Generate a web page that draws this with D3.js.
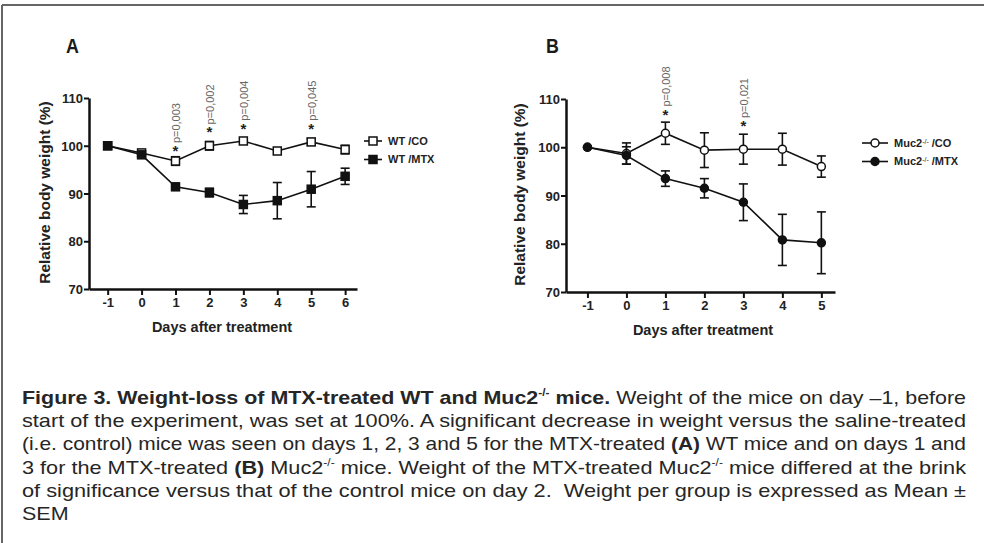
<!DOCTYPE html>
<html>
<head>
<meta charset="utf-8">
<script src="https://cdn.jsdelivr.net/npm/d3@7"></script>
<style>
  body { margin: 0; background: #fff; }
  #wrap { position: relative; width: 984px; height: 543px; overflow: hidden; }
  svg { position: absolute; left: 0; top: 0; }
  svg text { font-family: "Liberation Sans", Arial, sans-serif; }
  #caption {
    position: absolute; left: 22px; top: 386px;
    font-family: "Liberation Sans", Arial, sans-serif;
    font-size: 19px; line-height: 23.2px; color: #262626;
  }
  #caption div { height: 23.2px; white-space: nowrap; }
  #caption span { display: inline-block; transform-origin: 0 0; }
  #caption sup { font-size: 10.5px; vertical-align: 8px; line-height: 0; }
</style>
</head>
<body>
<div id="wrap">
  <svg id="chart" width="984" height="543"></svg>
  <div id="caption"></div>
</div>
<script>
// Panel A: WT mice
const daysA = [-1, 0, 1, 2, 3, 4, 5, 6];
const wtCo = [100, 98.5, 96.8, 100, 101, 98.9, 100.8, 99.2];
const wtCoSem = [0.3, 0.3, 0.9, 0.9, 0.5, 0.4, 0.7, 0.9];
const wtMtx = [100, 98.1, 91.4, 90.2, 87.7, 88.5, 90.9, 93.6];
const wtMtxSem = [0.2, 0.3, 0.4, 0.9, 1.9, 3.8, 3.7, 1.7];
const sigDaysA = [1, 2, 3, 5];
const sigLevelA = [99.3, 103.2, 104, 104];
const pLabelsA = ["p=0,003", "p=0,002", "p=0,004", "p=0,045"];

// Panel B: Muc2-/- mice
const daysB = [-1, 0, 1, 2, 3, 4, 5];
const mucCo = [100, 98.7, 102.9, 99.4, 99.6, 99.6, 96];
const mucCoSem = [0, 2.2, 2.3, 3.6, 3.1, 3.3, 2.2];
const mucMtx = [100, 98.3, 93.5, 91.5, 88.6, 80.8, 80.2];
const mucMtxSem = [0, 1.8, 1.6, 2, 3.8, 5.3, 6.4];
const sigDaysB = [1, 3];
const sigLevelB = [107.2, 104.8];
const pLabelsB = ["p=0,008", "p=0,021"];

const yTicks = [70, 80, 90, 100, 110];
const xTitle = "Days after treatment";
const yTitle = "Relative body weight (%)";

const svg = d3.select("#chart");

// frame of the figure
svg.append("line").attr("x1", 2).attr("x2", 984).attr("y1", 5).attr("y2", 5)
  .attr("stroke", "#666").attr("stroke-width", 2);
svg.append("line").attr("x1", 2).attr("x2", 2).attr("y1", 5).attr("y2", 543)
  .attr("stroke", "#666").attr("stroke-width", 2);

function panel(opt) {
  const x = d3.scaleLinear().domain(opt.xDomain).range(opt.xRange);
  const y = d3.scaleLinear().domain([70, 110]).range(opt.yRange);
  const g = svg.append("g");

  g.append("text")
    .attr("x", opt.letterX).attr("y", 53)
    .attr("transform", "translate(" + opt.letterX + ",0) scale(0.85,1) translate(" + -opt.letterX + ",0)")
    .style("font-size", "21px").style("font-weight", "bold").attr("fill", "#1a1a1a")
    .text(opt.letter);

  // axes
  const xAxis = g.append("g")
    .attr("transform", "translate(0," + opt.yRange[0] + ")")
    .call(d3.axisBottom(x).tickValues(opt.days).tickFormat(d => String(d))
      .tickSize(6).tickSizeOuter(0).tickPadding(3));
  const yAxis = g.append("g")
    .attr("transform", "translate(" + opt.xRange[0] + ",0)")
    .call(d3.axisLeft(y).tickValues(yTicks).tickSize(5).tickSizeOuter(0).tickPadding(1));
  [xAxis, yAxis].forEach(a => {
    a.select(".domain").attr("stroke", "#111").attr("stroke-width", 2.5);
    a.selectAll(".tick line").attr("stroke", "#111").attr("stroke-width", 2);
    a.selectAll(".tick text").attr("fill", "#222")
      .style("font-size", "13px").style("font-weight", "bold");
  });
  yAxis.selectAll(".tick text").attr("dy", "0.36em");

  g.append("text")
    .attr("x", opt.xTitleX).attr("y", opt.yRange[0] + 43)
    .attr("text-anchor", "middle").attr("fill", "#222")
    .style("font-size", "14.5px").style("font-weight", "bold")
    .text(xTitle);
  g.append("text")
    .attr("transform", "translate(" + opt.yTitleX + "," + ((opt.yRange[0] + opt.yRange[1]) / 2 - 1) + ") rotate(-90)")
    .attr("text-anchor", "middle").attr("fill", "#222")
    .style("font-size", "15.5px").style("font-weight", "bold")
    .text(yTitle);

  const line = d3.line().x(d => x(d[0])).y(d => y(d[1]));

  function series(values, sem, filled) {
    const pts = opt.days.map((d, i) => [d, values[i], sem[i]]);
    g.append("path").datum(pts).attr("d", line)
      .attr("fill", "none").attr("stroke", "#111").attr("stroke-width", 1.6);
    const eb = g.append("g");
    pts.filter(p => p[2] > 0.6).forEach(p => {
      const cx = x(p[0]);
      eb.append("line").attr("x1", cx).attr("x2", cx)
        .attr("y1", y(p[1] - p[2])).attr("y2", y(p[1] + p[2]));
      [p[1] - p[2], p[1] + p[2]].forEach(v => {
        eb.append("line").attr("x1", cx - 4.5).attr("x2", cx + 4.5)
          .attr("y1", y(v)).attr("y2", y(v));
      });
    });
    eb.selectAll("line").attr("stroke", "#111").attr("stroke-width", 1.6);
    pts.forEach(p => marker(g, x(p[0]), y(p[1]), filled));
  }

  function marker(parent, cx, cy, filled) {
    if (opt.shape === "square") {
      parent.append("rect").attr("x", cx - 4).attr("y", cy - 4)
        .attr("width", 8).attr("height", 8)
        .attr("fill", filled ? "#111" : "#fff").attr("stroke", "#111").attr("stroke-width", 1.5);
    } else {
      parent.append("circle").attr("cx", cx).attr("cy", cy).attr("r", 4)
        .attr("fill", filled ? "#111" : "#fff").attr("stroke", "#111").attr("stroke-width", 1.5);
    }
  }

  series(opt.co, opt.coSem, false);
  series(opt.mtx, opt.mtxSem, true);

  // significance marks
  opt.sigDays.forEach((d, i) => {
    const sx = x(d), sy = y(opt.sigLevel[i]);
    g.append("text").attr("x", sx).attr("y", sy + 7)
      .attr("text-anchor", "middle").attr("fill", "#222")
      .style("font-size", "15px").style("font-weight", "bold").text("*");
    g.append("text")
      .attr("transform", "translate(" + (sx + 1) + "," + (sy - 6) + ") rotate(-90)")
      .attr("dy", "0.35em").attr("fill", "#666")
      .style("font-size", "11px").text(opt.pLabels[i]);
  });

  // legend
  const leg = g.append("g");
  opt.legend.forEach((l, i) => {
    const ly = opt.legendY + i * 18.5;
    leg.append("line").attr("x1", opt.legendX).attr("x2", opt.legendX + opt.legendLen)
      .attr("y1", ly).attr("y2", ly).attr("stroke", "#111").attr("stroke-width", 1.6);
    marker(leg, opt.legendX + opt.legendLen / 2, ly, i === 1);
    const t = leg.append("text").attr("x", opt.legendX + opt.legendLen + 6).attr("y", ly).attr("dy", "0.36em")
      .attr("fill", "#222").style("font-size", "11px").style("font-weight", "bold");
    l.forEach(part => {
      const ts = t.append("tspan").text(part.t);
      if (part.sup) ts.attr("baseline-shift", "super").style("font-size", "7px").style("font-weight", "normal");
    });
  });
}

panel({
  letter: "A", letterX: 66,
  days: daysA, xDomain: [-1.55, 6.35], xRange: [89, 357], yRange: [289, 98],
  co: wtCo, coSem: wtCoSem, mtx: wtMtx, mtxSem: wtMtxSem, shape: "square",
  sigDays: sigDaysA, sigLevel: sigLevelA, pLabels: pLabelsA,
  xTitleX: 222, yTitleX: 50,
  legendX: 364, legendLen: 18, legendY: 141,
  legend: [[{ t: "WT /CO" }], [{ t: "WT /MTX" }]]
});

panel({
  letter: "B", letterX: 546,
  days: daysB, xDomain: [-1.55, 5.35], xRange: [566, 835], yRange: [292, 99],
  co: mucCo, coSem: mucCoSem, mtx: mucMtx, mtxSem: mucMtxSem, shape: "circle",
  sigDays: sigDaysB, sigLevel: sigLevelB, pLabels: pLabelsB,
  xTitleX: 703, yTitleX: 525,
  legendX: 862, legendLen: 26, legendY: 143,
  legend: [
    [{ t: "Muc2" }, { t: "-/-", sup: true }, { t: " /CO" }],
    [{ t: "Muc2" }, { t: "-/-", sup: true }, { t: " /MTX" }]
  ]
});

// caption, one block per printed line; each justified line is fitted to the column
const captionLines = [
  "<b>Figure 3. Weight-loss of MTX-treated WT and Muc2<sup>-/-</sup> mice.</b> Weight of the mice on day \u20131, before",
  "start of the experiment, was set at 100%. A significant decrease in weight versus the saline-treated",
  "(i.e. control) mice was seen on days 1, 2, 3 and 5 for the MTX-treated <b>(A)</b> WT mice and on days 1 and",
  "3 for the MTX-treated <b>(B)</b> Muc2<sup>-/-</sup> mice. Weight of the MTX-treated Muc2<sup>-/-</sup> mice differed at the brink",
  "of significance versus that of the control mice on day 2.&nbsp; Weight per group is expressed as Mean \u00b1",
  "SEM"
];
const colWidth = 944;
const spans = d3.select("#caption").selectAll("div").data(captionLines).join("div")
  .append("span").html(d => d);
const scales = [];
spans.each(function (d, i) {
  if (i < captionLines.length - 1) scales.push(colWidth / this.getBoundingClientRect().width);
});
const meanScale = d3.mean(scales);
spans.style("transform", (d, i) =>
  "scaleX(" + (i < captionLines.length - 1 ? scales[i] : meanScale) + ")");
</script>
</body>
</html>
